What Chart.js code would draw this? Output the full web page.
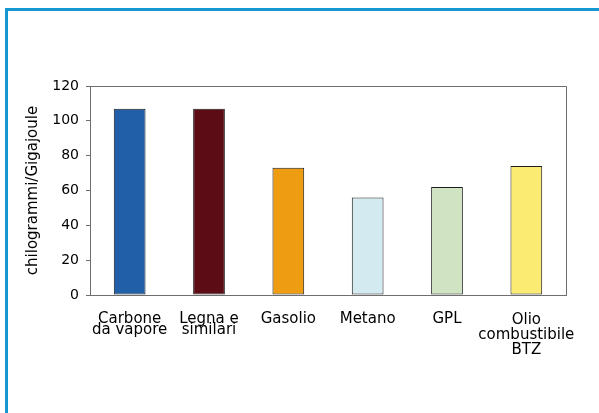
<!DOCTYPE html>
<html>
<head>
<meta charset="utf-8">
<script src="https://cdn.jsdelivr.net/npm/chart.js@4"></script>
<style>
  html, body { margin: 0; padding: 0; background: #fff; overflow: hidden; }
  #wrap { position: relative; width: 599px; height: 413px; }
  #frame {
    position: absolute; left: 5px; top: 8px; width: 700px; height: 500px;
    border-left: 3px solid #1597d1; border-top: 3px solid #1597d1;
    box-sizing: border-box;
  }
  canvas { position: absolute; left: 0; top: 0; }
</style>
</head>
<body>
<div id="wrap">
  <div id="frame"></div>
  <canvas id="c" width="599" height="413"></canvas>
</div>
<script>
// Fuel categories (multi-line labels as printed under each bar)
const categories = [
  ["Carbone", "da vapore"],
  ["Legna e", "similari"],
  "Gasolio",
  "Metano",
  "GPL",
  ["Olio", "combustibile", "BTZ"]
];
// Emission values, kg per GJ
const values = [107, 107, 73, 56, 62, 74];
// Y axis tick range
const yTicks = { min: 0, max: 120, step: 20 };
const barColors = ["#2160a9", "#5c0c14", "#ee9d13", "#d3eaf0", "#d0e4c3", "#fbeb73"];
const yTitle = "chilogrammi/Gigajoule";

// Per-label line spacing for the wrapped category names
const labelLineHeights = [11.5, 11.5, 11.5, 11.5, 11.5, 15];

const AXIS_COLOR = "#6e6e6e";

// Closes the plot frame on the top and right sides
const plotBox = {
  id: "plotBox",
  afterDraw(chart) {
    const { ctx, chartArea: a } = chart;
    ctx.save();
    ctx.strokeStyle = AXIS_COLOR;
    ctx.lineWidth = 1;
    ctx.beginPath();
    ctx.moveTo(Math.round(a.left) + 0.5, Math.round(a.top) + 0.5);
    ctx.lineTo(Math.round(a.right) + 0.5, Math.round(a.top) + 0.5);
    ctx.lineTo(Math.round(a.right) + 0.5, Math.round(a.bottom) + 0.5);
    ctx.stroke();
    ctx.restore();
  }
};

new Chart(document.getElementById("c"), {
  type: "bar",
  data: {
    labels: categories,
    datasets: [{
      data: values,
      backgroundColor: barColors,
      borderColor: "#1c1c1c",
      borderWidth: 1,
      borderSkipped: false,
      barPercentage: 0.4,
      categoryPercentage: 1.0
    }]
  },
  options: {
    responsive: false,
    animation: false,
    devicePixelRatio: 1,
    layout: { padding: { left: 0, top: 86, right: 33, bottom: 38 } },
    plugins: {
      legend: { display: false },
      tooltip: { enabled: false },
      title: { display: false }
    },
    scales: {
      x: {
        offset: true,
        grid: { display: false, drawTicks: false },
        border: { display: true, color: AXIS_COLOR, width: 1 },
        ticks: {
          color: "#000",
          padding: 18,
          maxRotation: 0,
          autoSkip: false,
          font: (ctx) => ({
            family: "DejaVu Sans",
            size: 15,
            lineHeight: labelLineHeights[ctx.index] + "px"
          })
        },
        afterFit: (s) => { s.height = 80; }
      },
      y: {
        min: yTicks.min,
        max: yTicks.max,
        grid: {
          drawOnChartArea: false,
          drawTicks: true,
          tickLength: 4,
          color: AXIS_COLOR
        },
        border: { display: true, color: AXIS_COLOR, width: 1 },
        ticks: {
          stepSize: yTicks.step,
          color: "#000",
          padding: 7,
          font: { family: "DejaVu Sans", size: 14 }
        },
        title: {
          display: true,
          text: yTitle,
          color: "#000",
          font: { family: "DejaVu Sans", size: 15 },
          padding: { top: 24, bottom: 0 }
        },
        afterFit: (s) => { s.width = 90; }
      }
    }
  },
  plugins: [plotBox]
});
</script>
</body>
</html>
